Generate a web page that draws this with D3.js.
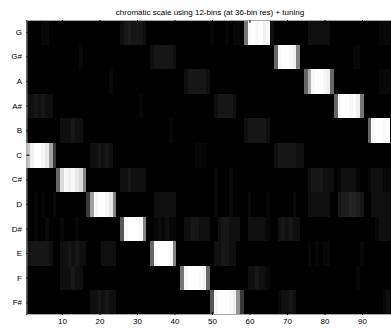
<!DOCTYPE html>
<html>
<head>
<meta charset="utf-8">
<script src="https://cdn.jsdelivr.net/npm/d3@7"></script>
<style>
  body { margin: 0; background: #fff; }
  text { font-family: "Liberation Sans", Arial, sans-serif; font-size: 8px; fill: #000; }
</style>
</head>
<body>
<svg id="chart"></svg>
<script>
let width = 391;
let height = 328;

let pitchLabels = ["G", "G#", "A", "A#", "B", "C", "C#", "D", "D#", "E", "F", "F#"];
let xTicks = [10, 20, 30, 40, 50, 60, 70, 80, 90];
let nFrames = 97;

// one string per pitch row, one base-36 digit per frame: 0 = black, z = white
let chromaRows = [
  "0000110000" + "0000000000" + "0000023433" + "3200000000" + "0000000001" + "00010110gy" + "zyzxy20000" + "0000022222" + "2000000000" + "0000111",
  "0000000000" + "0000100000" + "0000000000" + "0002333332" + "0000000000" + "0000000000" + "000000eyzz" + "yxi0000000" + "0000000110" + "0000000",
  "0000000000" + "0000000000" + "0010000000" + "0000000000" + "0023333320" + "0000000000" + "0000000000" + "0000eoyzzy" + "xe00000000" + "0000111",
  "2232322000" + "0000000000" + "0000000000" + "1000000000" + "0000000000" + "2333320000" + "0000000000" + "0000000000" + "00eyzzyzxg" + "0000000",
  "0000000002" + "2232200000" + "0000000000" + "0000000010" + "0000000000" + "0000000023" + "3333200000" + "0000000000" + "0000000000" + "0eyzzyz",
  "rxzzywm800" + "0000000223" + "2320000000" + "0000000000" + "0000011100" + "0000000000" + "0000002333" + "3322000000" + "0000000000" + "0000000",
  "00000000eu" + "yxywui0000" + "0000022322" + "2200000000" + "0000000000" + "1000100000" + "0000000000" + "0000023332" + "2201222210" + "0122211",
  "0010100100" + "0000008myz" + "zywi000000" + "0000222222" + "0000000000" + "1000100001" + "0000100000" + "0100022222" + "2003445543" + "0022222",
  "0010010001" + "0001000000" + "00000cyzzz" + "yi00121211" + "0022332220" + "0233222002" + "2222100232" + "3220000000" + "0000000000" + "0001222",
  "2333332002" + "2323220000" + "2222000000" + "000eyzzzyi" + "0000000000" + "2233220000" + "0000000000" + "0000010101" + "1000000001" + "0000000",
  "0000000002" + "2232200000" + "0000000000" + "0000000000" + "0gyzzzyxe0" + "0000000002" + "2322100000" + "0000000000" + "0000000010" + "0000000",
  "0000000000" + "0000000223" + "2322000000" + "0000000000" + "000000000c" + "yzzzyxk800" + "0000000122" + "3200000000" + "0000000000" + "0000012"
];

let cells = [];
chromaRows.forEach(function (row, r) {
  for (let i = 0; i < nFrames; i++) {
    let ch = row[i] || "0";
    cells.push({ pitch: pitchLabels[r], frame: i + 1, value: parseInt(ch, 36) / 35 });
  }
});

let plotLeft = 26.4, plotRight = 390.1, plotTop = 20, plotBottom = 315;

let xScale = d3.scaleLinear().domain([0.5, nFrames + 0.5]).range([plotLeft, plotRight]);
let yScale = d3.scaleBand().domain(pitchLabels).range([plotTop, plotBottom]);
let color = d3.scaleLinear().domain([0, 1]).range(["#000", "#fff"]);

let svg = d3.select("#chart").attr("width", width).attr("height", height);

svg.append("rect").attr("width", width).attr("height", height).attr("fill", "#fff");
svg.append("rect")
  .attr("x", plotLeft).attr("y", plotTop)
  .attr("width", width - plotLeft).attr("height", plotBottom - plotTop)
  .attr("fill", "#000");

svg.append("g")
  .attr("shape-rendering", "crispEdges")
  .selectAll("rect")
  .data(cells)
  .enter()
  .append("rect")
  .attr("x", (d) => xScale(d.frame - 0.5))
  .attr("y", (d) => yScale(d.pitch))
  .attr("width", xScale(1.5) - xScale(0.5))
  .attr("height", yScale.bandwidth())
  .attr("fill", (d) => color(d.value));

// frame lines (gray on the black image)
svg.append("path")
  .attr("d", `M${plotRight + 5},${plotTop + 0.5}H${plotLeft + 0.5}V${plotBottom - 0.5}H${plotRight + 5}`)
  .attr("fill", "none")
  .attr("stroke", "#a8a8a8")
  .attr("stroke-width", 1);

let xAxis = d3.axisBottom(xScale).tickValues(xTicks).tickSizeInner(-3).tickSizeOuter(0).tickPadding(3.5);
let gx = svg.append("g").attr("transform", `translate(0,${plotBottom})`).call(xAxis);
gx.select(".domain").remove();
gx.selectAll(".tick line").attr("stroke", "#000");
gx.selectAll("text").style("font-size", "8px").attr("font-family", null);

let xTop = d3.axisTop(xScale).tickValues(xTicks).tickSizeInner(-3).tickSizeOuter(0).tickFormat("");
let gt = svg.append("g").attr("transform", `translate(0,${plotTop})`).call(xTop);
gt.select(".domain").remove();
gt.selectAll(".tick line").attr("stroke", "#000");

let yAxis = d3.axisLeft(yScale).tickSizeInner(-3).tickSizeOuter(0).tickPadding(4.4);
let gy = svg.append("g").attr("transform", `translate(${plotLeft},0)`).call(yAxis);
gy.select(".domain").remove();
gy.selectAll(".tick line").attr("stroke", "#000");
gy.selectAll("text").style("font-size", "8px").attr("font-family", null);

svg.append("text")
  .attr("x", 210)
  .attr("y", 15)
  .attr("text-anchor", "middle")
  .text("chromatic scale using 12-bins (at 36-bin res) + tuning");
</script>
</body>
</html>
